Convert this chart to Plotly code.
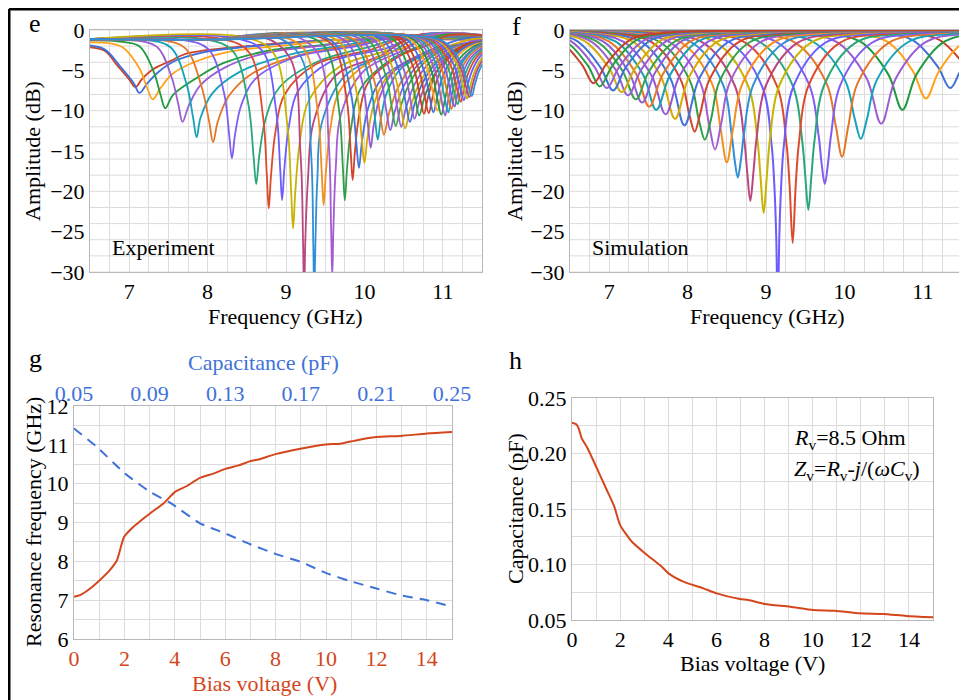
import plotly.graph_objects as go

# The page body has an 8 px default margin, so the figure is drawn 8 px in and is
# 8 px smaller than the 967x700 window; positions below are window pixels.
OFF = 8
W, H = 967 - OFF, 700 - OFF
FONT = "Liberation Serif"
GRID = "#dcdcdc"
FRAME = "#b8b8b8"
RED = "#d4461c"
BLUE = "#3f72d9"


def px(x):
    return (x - OFF) / W


def py(y):
    return 1 - (y - OFF) / H


# ---------------- data: panel f (simulation), ascending resonance --------------
SIM_F = [
    [3.0, 4.94, 5.87, 6.34, 6.65, 6.80, 6.96, 7.27, 7.73, 8.66, 14.0],
    [3.0, 5.02, 5.95, 6.42, 6.73, 6.88, 7.04, 7.35, 7.81, 8.74, 14.0],
    [3.0, 5.05, 6.01, 6.49, 6.81, 6.97, 7.13, 7.45, 7.93, 8.89, 14.0],
    [3.0, 5.13, 6.09, 6.57, 6.89, 7.05, 7.21, 7.53, 8.01, 8.97, 14.0],
    [3.0, 5.18, 6.17, 6.67, 7.00, 7.16, 7.33, 7.66, 8.15, 9.14, 14.0],
    [3.0, 5.26, 6.25, 6.75, 7.08, 7.24, 7.41, 7.74, 8.23, 9.22, 14.0],
    [3.0, 5.30, 6.32, 6.83, 7.17, 7.34, 7.51, 7.85, 8.36, 9.38, 14.0],
    [3.0, 5.38, 6.40, 6.91, 7.25, 7.42, 7.59, 7.93, 8.44, 9.46, 14.0],
    [3.0, 5.41, 6.46, 6.99, 7.34, 7.51, 7.69, 8.04, 8.56, 9.61, 14.0],
    [3.0, 5.50, 6.55, 7.08, 7.43, 7.60, 7.78, 8.13, 8.65, 9.70, 14.0],
    [3.0, 5.56, 6.64, 7.18, 7.54, 7.72, 7.90, 8.26, 8.80, 9.88, 14.0],
    [3.0, 5.68, 6.76, 7.30, 7.66, 7.84, 8.02, 8.38, 8.92, 10.0, 14.0],
    [3.0, 5.74, 6.85, 7.41, 7.78, 7.96, 8.15, 8.52, 9.07, 10.18, 14.0],
    [3.0, 5.87, 6.98, 7.54, 7.91, 8.02, 8.09, 8.16, 8.28, 8.65, 9.20, 10.31, 14.0],
    [3.0, 5.94, 7.08, 7.65, 8.03, 8.14, 8.22, 8.30, 8.41, 8.79, 9.36, 10.50, 14.0],
    [3.0, 6.07, 7.21, 7.78, 8.16, 8.27, 8.35, 8.43, 8.54, 8.92, 9.49, 10.63, 14.0],
    [3.0, 6.16, 7.33, 7.92, 8.31, 8.42, 8.50, 8.58, 8.70, 9.09, 9.67, 10.84, 14.0],
    [3.0, 6.30, 7.47, 8.06, 8.45, 8.56, 8.60, 8.64, 8.68, 8.72, 8.84, 9.23, 9.81, 10.98, 14.0],
    [3.0, 6.40, 7.60, 8.20, 8.60, 8.72, 8.76, 8.80, 8.84, 8.88, 9.00, 9.40, 10.00, 11.20, 14.0],
    [3.0, 6.57, 7.77, 8.37, 8.77, 8.89, 8.93, 8.97, 9.01, 9.05, 9.17, 9.57, 10.17, 11.37, 14.0],
    [3.0, 6.75, 7.95, 8.55, 8.95, 9.07, 9.11, 9.13, 9.15, 9.17, 9.19, 9.23, 9.35, 9.75, 10.35, 11.55, 14.0],
    [3.0, 6.94, 8.14, 8.74, 9.14, 9.26, 9.30, 9.34, 9.38, 9.42, 9.54, 9.94, 10.54, 11.74, 14.0],
    [3.0, 7.14, 8.34, 8.94, 9.34, 9.46, 9.50, 9.54, 9.58, 9.62, 9.74, 10.14, 10.74, 11.94, 14.0],
    [3.0, 7.35, 8.55, 9.15, 9.55, 9.67, 9.71, 9.75, 9.79, 9.83, 9.95, 10.35, 10.95, 12.15, 14.0],
    [3.0, 7.57, 8.77, 9.37, 9.77, 9.89, 9.97, 10.05, 10.17, 10.57, 11.17, 12.37, 14.0],
    [3.0, 7.81, 9.01, 9.61, 10.01, 10.13, 10.21, 10.29, 10.41, 10.81, 11.41, 12.61, 14.0],
    [3.0, 8.19, 9.33, 9.90, 10.28, 10.47, 10.66, 11.04, 11.61, 12.75, 14.0],
    [3.0, 8.58, 9.66, 10.20, 10.56, 10.74, 10.92, 11.28, 11.82, 12.90, 14.0],
    [3.0, 9.00, 10.02, 10.53, 10.87, 11.04, 11.21, 11.55, 12.06, 13.08, 14.0],
    [3.0, 9.43, 10.39, 10.87, 11.19, 11.35, 11.51, 11.83, 12.31, 13.27, 14.0],
    [3.0, 9.76, 10.72, 11.20, 11.52, 11.68, 11.84, 12.16, 12.64, 13.60, 14.0],
]
SIM_DB = [
    [-0.01, -0.1, -0.35, -1.18, -4.26, -6.6, -4.26, -1.18, -0.35, -0.1, -0.01],
    [-0.01, -0.1, -0.36, -1.23, -4.44, -7.0, -4.44, -1.23, -0.36, -0.1, -0.01],
    [-0.01, -0.1, -0.37, -1.25, -4.55, -7.2, -4.55, -1.25, -0.37, -0.1, -0.01],
    [-0.01, -0.1, -0.37, -1.27, -4.66, -7.5, -4.66, -1.27, -0.37, -0.1, -0.01],
    [-0.01, -0.1, -0.37, -1.28, -4.75, -7.7, -4.75, -1.28, -0.37, -0.1, -0.01],
    [-0.01, -0.1, -0.38, -1.31, -4.9, -8.1, -4.9, -1.31, -0.38, -0.1, -0.01],
    [-0.01, -0.1, -0.39, -1.34, -5.08, -8.6, -5.08, -1.34, -0.39, -0.1, -0.01],
    [-0.01, -0.1, -0.39, -1.36, -5.21, -9.0, -5.21, -1.36, -0.39, -0.1, -0.01],
    [-0.01, -0.1, -0.40, -1.39, -5.38, -9.5, -5.38, -1.39, -0.40, -0.1, -0.01],
    [-0.01, -0.1, -0.41, -1.41, -5.5, -9.9, -5.5, -1.41, -0.41, -0.1, -0.01],
    [-0.01, -0.1, -0.41, -1.43, -5.65, -10.45, -5.65, -1.43, -0.41, -0.1, -0.01],
    [-0.01, -0.1, -0.42, -1.45, -5.8, -11.0, -5.8, -1.45, -0.42, -0.1, -0.01],
    [-0.01, -0.1, -0.42, -1.48, -5.98, -11.8, -5.98, -1.48, -0.42, -0.1, -0.01],
    [-0.01, -0.1, -0.43, -1.5, -6.12, -10.4, -12.6, -10.4, -6.12, -1.5, -0.43, -0.1, -0.01],
    [-0.01, -0.1, -0.44, -1.52, -6.3, -11.0, -13.6, -11.0, -6.3, -1.52, -0.44, -0.1, -0.01],
    [-0.01, -0.1, -0.44, -1.55, -6.46, -11.5, -14.8, -11.5, -6.46, -1.55, -0.44, -0.1, -0.01],
    [-0.01, -0.1, -0.45, -1.57, -6.62, -12.2, -16.4, -12.2, -6.62, -1.57, -0.45, -0.1, -0.01],
    [-0.01, -0.1, -0.45, -1.58, -6.73, -12.8, -16.1, -18.3, -16.1, -12.8, -6.73, -1.58, -0.45, -0.1, -0.01],
    [-0.01, -0.1, -0.45, -1.6, -6.85, -13.4, -17.6, -21.2, -17.6, -13.4, -6.85, -1.6, -0.45, -0.1, -0.01],
    [-0.01, -0.1, -0.45, -1.6, -6.88, -13.6, -18.2, -22.7, -18.2, -13.6, -6.88, -1.6, -0.45, -0.1, -0.01],
    [-0.01, -0.1, -0.46, -1.61, -6.99, -14.1, -20.0, -25.5, -35.0, -25.5, -20.0, -14.1, -6.99, -1.61, -0.46, -0.1, -0.01],
    [-0.01, -0.1, -0.46, -1.6, -6.95, -14.0, -19.1, -26.4, -19.1, -14.0, -6.95, -1.6, -0.46, -0.1, -0.01],
    [-0.01, -0.1, -0.45, -1.6, -6.88, -13.6, -18.0, -22.3, -18.0, -13.6, -6.88, -1.6, -0.45, -0.1, -0.01],
    [-0.01, -0.1, -0.45, -1.58, -6.76, -13.0, -16.6, -19.1, -16.6, -13.0, -6.76, -1.58, -0.45, -0.1, -0.01],
    [-0.01, -0.1, -0.45, -1.56, -6.55, -11.9, -15.7, -11.9, -6.55, -1.56, -0.45, -0.1, -0.01],
    [-0.01, -0.1, -0.44, -1.52, -6.28, -10.95, -13.5, -10.95, -6.28, -1.52, -0.44, -0.1, -0.01],
    [-0.01, -0.1, -0.42, -1.47, -5.93, -11.6, -5.93, -1.47, -0.42, -0.1, -0.01],
    [-0.01, -0.1, -0.41, -1.41, -5.5, -9.9, -5.5, -1.41, -0.41, -0.1, -0.01],
    [-0.01, -0.1, -0.39, -1.34, -5.05, -8.5, -5.05, -1.34, -0.39, -0.1, -0.01],
    [-0.01, -0.1, -0.37, -1.25, -4.55, -7.2, -4.55, -1.25, -0.37, -0.1, -0.01],
    [-0.01, -0.1, -0.35, -1.17, -4.2, -6.5, -4.2, -1.17, -0.35, -0.1, -0.01],
]

# ---------------- data: panel e (experiment), ascending bias voltage -----------
EXP_F = [
    [6.4, 6.68, 6.85, 7.00, 7.08, 7.16, 7.30, 7.53, 7.73, 8.5, 9.8, 12.0],
    [6.4, 6.68, 6.89, 7.06, 7.13, 7.23, 7.38, 7.58, 7.93, 8.7, 9.9, 12.0],
    [6.4, 6.75, 6.92, 7.13, 7.23, 7.30, 7.40, 7.55, 7.85, 8.30, 9.0, 10.0, 12.0],
    [6.4, 6.85, 7.13, 7.31, 7.40, 7.46, 7.56, 7.86, 8.20, 8.76, 9.5, 10.3, 12.0],
    [6.4, 7.0, 7.35, 7.54, 7.63, 7.68, 7.76, 7.91, 8.23, 8.78, 9.5, 10.3, 12.0],
    [6.4, 7.18, 7.53, 7.73, 7.815, 7.86, 7.91, 8.06, 8.41, 9.06, 9.8, 10.4, 12.0],
    [6.4, 7.36, 7.71, 7.92, 8.02, 8.07, 8.13, 8.27, 8.57, 9.17, 9.9, 10.5, 12.0],
    [6.4, 7.66, 8.01, 8.21, 8.275, 8.31, 8.35, 8.43, 8.61, 9.11, 9.9, 10.5, 12.0],
    [6.4, 7.97, 8.32, 8.52, 8.585, 8.62, 8.66, 8.74, 8.92, 9.42, 10.1, 10.6, 12.0],
    [6.4, 8.18, 8.53, 8.705, 8.755, 8.78, 8.81, 8.865, 8.98, 9.38, 10.1, 10.6, 12.0],
    [6.4, 8.35, 8.70, 8.875, 8.925, 8.95, 8.98, 9.035, 9.15, 9.55, 10.3, 10.7, 12.0],
    [6.4, 8.49, 8.84, 9.015, 9.065, 9.09, 9.12, 9.175, 9.29, 9.69, 10.3, 10.7, 12.0],
    [6.4, 8.0, 8.70, 9.05, 9.185, 9.218, 9.23, 9.245, 9.28, 9.35, 9.63, 10.2, 10.7, 12.0],
    [6.4, 8.0, 8.84, 9.19, 9.32, 9.348, 9.36, 9.375, 9.40, 9.46, 9.76, 10.3, 10.8, 12.0],
    [6.4, 8.0, 8.88, 9.23, 9.405, 9.455, 9.48, 9.51, 9.565, 9.68, 10.08, 10.5, 10.9, 12.0],
    [6.4, 8.0, 9.06, 9.41, 9.545, 9.575, 9.59, 9.605, 9.635, 9.70, 9.99, 10.5, 10.9, 12.0],
    [6.4, 8.0, 9.15, 9.50, 9.675, 9.725, 9.75, 9.78, 9.835, 9.95, 10.35, 10.7, 11.0, 12.0],
    [6.4, 8.0, 9.25, 9.60, 9.775, 9.825, 9.85, 9.88, 9.935, 10.05, 10.45, 10.8, 11.1, 12.0],
    [6.4, 8.0, 9.28, 9.63, 9.83, 9.895, 9.93, 9.97, 10.05, 10.23, 10.73, 11.0, 11.3, 12.0],
    [6.4, 8.0, 9.35, 9.70, 9.90, 9.965, 10.00, 10.04, 10.12, 10.30, 10.80, 11.1, 11.4, 12.0],
    [6.4, 8.0, 9.43, 9.78, 9.98, 10.045, 10.08, 10.12, 10.20, 10.38, 10.88, 11.2, 11.45, 12.0],
    [6.4, 8.0, 9.52, 9.87, 10.07, 10.135, 10.17, 10.21, 10.29, 10.47, 10.97, 11.25, 11.5, 12.0],
    [6.4, 8.0, 9.55, 9.90, 10.12, 10.20, 10.25, 10.31, 10.42, 10.60, 10.95, 11.3, 11.6, 12.0],
    [6.4, 8.0, 9.63, 9.98, 10.20, 10.28, 10.33, 10.39, 10.50, 10.68, 11.03, 11.35, 11.6, 12.0],
    [6.4, 8.0, 9.70, 10.05, 10.27, 10.35, 10.40, 10.46, 10.57, 10.75, 11.1, 11.4, 11.65, 12.0],
    [6.4, 8.0, 9.77, 10.12, 10.34, 10.42, 10.47, 10.53, 10.64, 10.82, 11.17, 11.45, 11.7, 12.0],
    [6.4, 8.0, 9.82, 10.17, 10.39, 10.47, 10.52, 10.58, 10.69, 10.87, 11.22, 11.5, 11.75, 12.0],
    [6.4, 8.0, 9.8, 10.23, 10.45, 10.53, 10.58, 10.64, 10.75, 10.93, 11.28, 11.55, 12.0],
    [6.4, 8.0, 9.9, 10.29, 10.51, 10.59, 10.64, 10.70, 10.81, 10.99, 11.34, 11.6, 12.0],
    [6.4, 8.0, 9.95, 10.35, 10.57, 10.65, 10.70, 10.76, 10.87, 11.05, 11.4, 11.65, 12.0],
    [6.4, 8.0, 10.0, 10.41, 10.63, 10.71, 10.76, 10.81, 10.89, 11.04, 11.31, 11.6, 12.0],
    [6.4, 8.0, 10.05, 10.47, 10.69, 10.77, 10.82, 10.87, 10.94, 11.07, 11.32, 11.6, 12.0],
    [6.4, 8.0, 10.1, 10.53, 10.75, 10.83, 10.88, 10.93, 11.0, 11.12, 11.36, 11.6, 12.0],
    [6.4, 8.0, 10.15, 10.58, 10.80, 10.88, 10.93, 10.98, 11.04, 11.16, 11.4, 11.65, 12.0],
    [6.4, 8.0, 10.2, 10.63, 10.85, 10.93, 10.98, 11.03, 11.09, 11.2, 11.42, 11.65, 12.0],
    [6.4, 8.0, 10.25, 10.68, 10.90, 10.98, 11.03, 11.07, 11.13, 11.24, 11.45, 11.7, 12.0],
    [6.4, 8.0, 10.3, 10.72, 10.94, 11.02, 11.07, 11.11, 11.17, 11.27, 11.47, 11.7, 12.0],
    [6.4, 8.0, 10.3, 10.76, 10.98, 11.06, 11.11, 11.15, 11.21, 11.31, 11.51, 11.75, 12.0],
    [6.4, 8.0, 10.35, 10.8, 11.02, 11.10, 11.15, 11.19, 11.25, 11.35, 11.55, 11.75, 12.0],
    [6.4, 8.0, 10.4, 10.84, 11.06, 11.14, 11.19, 11.23, 11.29, 11.39, 11.59, 11.8, 12.0],
    [6.4, 8.0, 10.45, 10.88, 11.10, 11.18, 11.23, 11.27, 11.33, 11.43, 11.63, 11.8, 12.0],
    [6.4, 8.0, 10.5, 10.92, 11.14, 11.22, 11.27, 11.31, 11.37, 11.47, 11.67, 11.85, 12.0],
    [6.4, 8.0, 10.55, 10.96, 11.18, 11.26, 11.31, 11.35, 11.41, 11.51, 11.71, 11.85, 12.0],
    [6.4, 8.0, 10.6, 10.99, 11.21, 11.29, 11.34, 11.38, 11.44, 11.54, 11.74, 11.9, 12.0],
    [6.4, 8.0, 10.6, 11.02, 11.24, 11.32, 11.37, 11.41, 11.47, 11.57, 11.77, 11.9, 12.0],
]
EXP_DB = [
    [-2.1, -2.55, -4.41, -6.12, -7.1, -6.12, -4.9, -3.82, -2.94, -2.0, -1.2, -1.3],
    [-1.85, -2.37, -4.56, -6.62, -7.8, -6.62, -5.15, -3.85, -2.79, -1.9, -1.1, -1.3],
    [-1.55, -1.65, -2.16, -4.75, -7.2, -8.6, -7.2, -5.45, -3.91, -2.65, -1.9, -1.0, -1.3],
    [-1.3, -1.4, -2.02, -5.11, -8.03, -9.7, -8.03, -5.94, -4.11, -2.6, -1.8, -0.9, -1.3],
    [-1.2, -1.25, -2.06, -5.82, -9.37, -11.4, -9.37, -6.83, -4.6, -2.77, -1.9, -0.8, -1.3],
    [-1.15, -1.2, -2.17, -6.65, -10.88, -13.3, -10.88, -7.86, -5.19, -3.02, -1.8, -0.8, -1.3],
    [-1.2, -1.2, -2.22, -6.92, -11.36, -13.9, -11.36, -8.19, -5.39, -3.11, -1.8, -0.7, -1.3],
    [-1.2, -1.2, -2.38, -7.82, -12.96, -15.9, -12.96, -9.29, -6.05, -3.41, -2.0, -0.7, -1.3],
    [-1.2, -1.15, -2.59, -9.23, -15.51, -19.1, -15.51, -11.02, -7.07, -3.84, -2.0, -0.7, -1.3],
    [-1.2, -1.1, -2.78, -10.55, -17.9, -22.1, -17.9, -12.65, -8.03, -4.25, -2.4, -0.7, -1.3],
    [-1.2, -1.0, -2.61, -10.05, -17.08, -21.1, -17.08, -12.06, -7.63, -4.02, -2.2, -0.6, -1.3],
    [-1.2, -0.95, -2.84, -11.59, -19.87, -24.6, -19.87, -13.96, -8.75, -4.5, -2.5, -0.6, -1.3],
    [-1.1, -1.2, -0.85, -3.42, -15.32, -26.57, -33.0, -26.57, -18.53, -11.46, -5.67, -3.2, -0.6, -1.3],
    [-1.1, -1.2, -0.75, -3.33, -15.26, -26.55, -33.0, -26.55, -18.49, -11.39, -5.59, -3.0, -0.5, -1.3],
    [-1.1, -1.2, -0.7, -2.38, -10.15, -17.5, -21.7, -17.5, -12.25, -7.63, -3.85, -2.2, -0.5, -1.3],
    [-1.1, -1.2, -0.6, -3.0, -14.06, -24.52, -30.5, -24.52, -17.05, -10.47, -5.09, -2.5, -0.5, -1.3],
    [-1.1, -1.2, -0.5, -2.15, -9.77, -16.98, -21.1, -16.98, -11.83, -7.3, -3.59, -2.0, -0.6, -1.3],
    [-1.1, -1.2, -0.5, -1.95, -8.65, -14.98, -18.6, -14.98, -10.46, -6.47, -3.22, -1.9, -0.6, -1.3],
    [-1.1, -1.2, -0.45, -1.78, -7.94, -13.77, -17.1, -13.77, -9.61, -5.94, -2.95, -1.9, -1.0, -1.3],
    [-1.1, -1.2, -0.4, -1.69, -7.65, -13.28, -16.5, -13.28, -9.26, -5.71, -2.82, -1.9, -1.1, -1.3],
    [-1.1, -1.2, -0.4, -1.54, -6.79, -11.76, -14.6, -11.76, -8.21, -5.09, -2.53, -1.8, -1.3, -1.3],
    [-1.1, -1.2, -0.4, -1.46, -6.34, -10.96, -13.6, -10.96, -7.66, -4.76, -2.38, -1.8, -1.4, -1.3],
    [-1.1, -1.2, -0.4, -1.41, -6.07, -10.48, -13.0, -10.48, -7.33, -4.56, -2.29, -1.8, -1.5, -1.3],
    [-1.1, -1.2, -0.4, -1.36, -5.8, -10.0, -12.4, -10.0, -7.0, -4.36, -2.2, -1.8, -1.6, -1.3],
    [-1.1, -1.2, -0.35, -1.27, -5.55, -9.59, -11.9, -9.59, -6.7, -4.16, -2.08, -1.8, -1.6, -1.3],
    [-1.1, -1.2, -0.3, -1.24, -5.57, -9.66, -12.0, -9.66, -6.74, -4.16, -2.06, -1.9, -1.7, -1.3],
    [-1.1, -1.2, -0.3, -1.25, -5.66, -9.82, -12.2, -9.82, -6.85, -4.23, -2.09, -1.9, -1.7, -1.3],
    [-1.1, -1.2, -0.3, -1.19, -5.3, -9.18, -11.4, -9.18, -6.41, -3.96, -1.97, -1.8, -1.3],
    [-1.1, -1.2, -0.3, -1.11, -5.09, -8.85, -11.0, -8.85, -6.16, -3.8, -1.86, -1.7, -1.3],
    [-1.1, -1.2, -0.3, -1.03, -4.88, -8.52, -10.6, -8.52, -5.92, -3.63, -1.76, -1.6, -1.3],
    [-1.1, -1.2, -0.3, -1.02, -4.79, -8.36, -10.4, -8.36, -5.81, -3.57, -1.73, -1.5, -1.3],
    [-1.1, -1.2, -0.3, -1.05, -4.77, -8.29, -10.3, -8.29, -5.78, -3.57, -1.76, -1.5, -1.3],
    [-1.1, -1.2, -0.3, -1.09, -4.76, -8.22, -10.2, -8.22, -5.75, -3.57, -1.79, -1.5, -1.3],
    [-1.1, -1.2, -0.3, -1.12, -4.69, -8.07, -10.0, -8.07, -5.66, -3.53, -1.8, -1.5, -1.3],
    [-1.1, -1.2, -0.35, -1.21, -4.95, -8.48, -10.5, -8.48, -5.96, -3.73, -1.92, -1.5, -1.3],
    [-1.1, -1.2, -0.35, -1.26, -5.02, -8.57, -10.6, -8.57, -6.03, -3.8, -1.97, -1.5, -1.3],
    [-1.1, -1.2, -0.4, -1.28, -4.87, -8.26, -10.2, -8.26, -5.84, -3.7, -1.96, -1.5, -1.3],
    [-1.1, -1.2, -0.45, -1.29, -4.71, -7.95, -9.8, -7.95, -5.64, -3.6, -1.94, -1.5, -1.3],
    [-1.1, -1.2, -0.5, -1.31, -4.6, -7.72, -9.5, -7.72, -5.5, -3.54, -1.94, -1.5, -1.3],
    [-1.1, -1.2, -0.5, -1.33, -4.5, -7.49, -9.2, -7.49, -5.35, -3.47, -1.93, -1.5, -1.3],
    [-1.1, -1.2, -0.55, -1.36, -4.39, -7.26, -8.9, -7.26, -5.21, -3.41, -1.93, -1.5, -1.3],
    [-1.1, -1.2, -0.6, -1.39, -4.33, -7.11, -8.7, -7.11, -5.12, -3.37, -1.94, -1.5, -1.3],
    [-1.1, -1.2, -0.6, -1.42, -4.27, -6.96, -8.5, -6.96, -5.04, -3.34, -1.96, -1.5, -1.3],
    [-1.1, -1.2, -0.65, -1.45, -4.2, -6.81, -8.3, -6.81, -4.95, -3.31, -1.97, -1.5, -1.3],
    [-1.1, -1.2, -0.7, -1.48, -4.19, -6.74, -8.2, -6.74, -4.92, -3.31, -1.99, -1.5, -1.3],
]

PALETTE = [
    "#c9432b", "#3e6fd8", "#ffa21c", "#1f9a3e", "#9b5dd1", "#14a3bb", "#e57628",
    "#7f5cf2", "#2aa779", "#de4a2c", "#6b5cff", "#c8b400", "#b9467f", "#2f8fd6",
    "#f2901e", "#a45bd4", "#2e9f48", "#d2452c", "#4272da", "#d9a900", "#9458d8",
    "#1a9fb3", "#e8772a", "#8c5fd8", "#3aa24a", "#9a5ed0", "#d0ac10", "#3e72d8",
    "#9a5ed0", "#2a9c40", "#c8402a",
]

# ---------------- data: panel g ----------------------------------------------
BIAS_V = [0, 0.24, 0.64, 1.03, 1.43, 1.70, 1.99, 2.36, 2.62, 3.09, 3.55, 4.01,
          4.48, 5.0, 5.54, 6.01, 6.53, 7.0, 7.32, 8.0, 8.98, 9.99, 10.57, 11.23,
          11.99, 12.95, 14.01, 15.0]
RES_FREQ = [7.09, 7.13, 7.30, 7.52, 7.78, 8.02, 8.63, 8.89, 9.03, 9.27, 9.49,
            9.79, 9.94, 10.15, 10.26, 10.38, 10.47, 10.58, 10.62, 10.76, 10.90,
            11.01, 11.03, 11.12, 11.20, 11.23, 11.29, 11.33]
CAP_PF = [0.05, 0.062, 0.077, 0.0902, 0.1008, 0.1167, 0.13, 0.1432, 0.1573,
          0.1697, 0.1838, 0.1962, 0.21, 0.2226, 0.2368, 0.25]
CAP_FREQ = [11.42, 10.95, 10.26, 9.79, 9.51, 8.98, 8.72, 8.44, 8.18, 7.99, 7.69,
            7.49, 7.30, 7.13, 7.0, 6.83]

# ---------------- data: panel h ----------------------------------------------
H_V = [0, 0.18, 0.28, 0.41, 0.62, 1.04, 1.45, 1.76, 2.0, 2.49, 3.04, 3.73, 4.01,
       4.63, 5.46, 6.01, 6.98, 7.33, 8.02, 9.06, 10.02, 10.92, 11.96, 12.93,
       13.89, 15.0]
H_CAP = [0.2278, 0.2263, 0.2224, 0.2134, 0.2059, 0.1864, 0.1669, 0.152, 0.1355,
         0.1205, 0.110, 0.098, 0.092, 0.0845, 0.0785, 0.074, 0.0689, 0.068,
         0.0644, 0.062, 0.059, 0.0584, 0.056, 0.0554, 0.0536, 0.0524]

GRID_DB = list(range(-30, 1, 2))

fig = go.Figure()

for i, (xs, ys) in enumerate(zip(EXP_F, EXP_DB)):
    fig.add_trace(go.Scatter(x=xs, y=ys, mode="lines", xaxis="x", yaxis="y",
                             line=dict(color=PALETTE[i % len(PALETTE)], width=1.8, shape="spline"),
                             hoverinfo="skip"))

n_sim = len(SIM_F)
for i in reversed(range(n_sim)):
    fig.add_trace(go.Scatter(x=SIM_F[i], y=SIM_DB[i], mode="lines", xaxis="x2", yaxis="y2",
                             line=dict(color=PALETTE[(n_sim - 1 - i) % len(PALETTE)], width=2, shape="spline"),
                             hoverinfo="skip"))

fig.add_trace(go.Scatter(x=BIAS_V, y=RES_FREQ, mode="lines", xaxis="x3", yaxis="y3",
                         line=dict(color=RED, width=2, shape="spline", smoothing=0.6)))
fig.add_trace(go.Scatter(x=CAP_PF, y=CAP_FREQ, mode="lines", xaxis="x4", yaxis="y3",
                         line=dict(color=BLUE, width=2, dash="10px,7px", shape="spline", smoothing=0.6)))
fig.add_trace(go.Scatter(x=H_V, y=H_CAP, mode="lines", xaxis="x5", yaxis="y5",
                         line=dict(color=RED, width=2, shape="spline", smoothing=0.6)))

tickfont = dict(family=FONT, size=22, color="black")
frame = dict(showline=True, mirror=True, linecolor=FRAME, linewidth=1, ticks="",
             zeroline=False, tickfont=tickfont, automargin=False)

dom_e_x = [px(90), px(482)]
dom_f_x = [px(570), px(962)]
dom_ef_y = [py(272), py(30)]

fig.update_layout(
    template="none",
    width=W, height=H, margin=dict(l=0, r=0, t=0, b=0, pad=0, autoexpand=False),
    paper_bgcolor="white", plot_bgcolor="white", showlegend=False,
    font=dict(family=FONT, size=22, color="black"),
    xaxis=dict(domain=dom_e_x, anchor="y", range=[6.5, 11.5], tickvals=[7, 8, 9, 10, 11],
               showgrid=True, gridcolor=GRID, gridwidth=1,
               minor=dict(dtick=0.25, tick0=6.5, showgrid=True, gridcolor=GRID, ticks=""), **frame),
    yaxis=dict(domain=dom_ef_y, anchor="x", range=[-30, 0], tickvals=list(range(-30, 1, 5)),
               showgrid=False, **frame),
    xaxis2=dict(domain=dom_f_x, anchor="y2", range=[6.5, 11.5], tickvals=[7, 8, 9, 10, 11],
                showgrid=True, gridcolor=GRID, gridwidth=1,
                minor=dict(dtick=0.25, tick0=6.5, showgrid=True, gridcolor=GRID, ticks=""), **frame),
    yaxis2=dict(domain=dom_ef_y, anchor="x2", range=[-30, 0], tickvals=list(range(-30, 1, 5)),
                showgrid=False, **frame),
    xaxis3=dict(domain=[px(74), px(452)], anchor="y3", range=[0, 15], tickvals=list(range(0, 15, 2)),
                showgrid=True, gridcolor=GRID, gridwidth=1,
                minor=dict(dtick=1, showgrid=True, gridcolor=GRID, ticks=""),
                **{**frame, "tickfont": dict(family=FONT, size=22, color=RED)}),
    xaxis4=dict(overlaying="x3", anchor="y3", side="top", range=[0.05, 0.25],
                tickvals=[0.05, 0.09, 0.13, 0.17, 0.21, 0.25], tickformat=".2f",
                showgrid=False, showline=False, ticks="", zeroline=False, automargin=False,
                tickfont=dict(family=FONT, size=22, color=BLUE)),
    yaxis3=dict(domain=[py(639), py(406)], anchor="x3", range=[6, 12], dtick=1,
                showgrid=True, gridcolor=GRID, gridwidth=1,
                minor=dict(dtick=0.5, showgrid=True, gridcolor=GRID, ticks=""), **frame),
    xaxis5=dict(domain=[px(572), px(933)], anchor="y5", range=[0, 15], tickvals=list(range(0, 15, 2)),
                showgrid=True, gridcolor=GRID, gridwidth=1,
                minor=dict(dtick=1, showgrid=True, gridcolor=GRID, ticks=""), **frame),
    yaxis5=dict(domain=[py(620), py(398)], anchor="x5", range=[0.05, 0.25],
                tickvals=[0.05, 0.10, 0.15, 0.20, 0.25], tickformat=".2f",
                showgrid=True, gridcolor=GRID, gridwidth=1,
                minor=dict(dtick=0.025, tick0=0.05, showgrid=True, gridcolor=GRID, ticks=""), **frame),
)

shapes = []
for yref, xref in (("y", "x domain"), ("y2", "x2 domain")):
    for v in GRID_DB:
        shapes.append(dict(type="line", xref=xref, yref=yref, x0=0, x1=1, y0=v, y1=v,
                           line=dict(color=GRID, width=1), layer="below"))
# outer black frame (top and left edges of the figure box)
shapes.append(dict(type="line", xref="paper", yref="paper", x0=px(9), x1=1.01, y0=py(9), y1=py(9),
                   line=dict(color="black", width=3)))
shapes.append(dict(type="line", xref="paper", yref="paper", x0=px(9), x1=px(9), y0=py(9), y1=-0.01,
                   line=dict(color="black", width=3)))
fig.update_layout(shapes=shapes)


def note(text, x, y, size=22, color="black", angle=0, xanchor="center"):
    fig.add_annotation(text=text, x=px(x), y=py(y), xref="paper", yref="paper",
                       showarrow=False, textangle=angle, xanchor=xanchor, yanchor="middle",
                       font=dict(family=FONT, size=size, color=color))


note("e", 35, 24, size=26)
note("f", 516, 26, size=26)
note("g", 35, 358, size=26)
note("h", 515, 360, size=26)
note("Amplitude (dB)", 33, 151, angle=-90)
note("Frequency (GHz)", 285, 316)
note("Experiment", 110, 247, xanchor="left")
note("Amplitude (dB)", 515, 151, angle=-90)
note("Frequency (GHz)", 767, 316)
note("Simulation", 590, 247, xanchor="left")
note("Capacitance (pF)", 263, 363, color=BLUE)
note("Resonance frequency (GHz)", 33, 522, angle=-90)
note("Bias voltage (V)", 264, 683, color=RED)
note("Capacitance (pF)", 515, 509, angle=-90)
note("Bias voltage (V)", 752, 663)
note("<i>R</i><sub>v</sub>=8.5 Ohm", 792, 439, xanchor="left")
note("<i>Z</i><sub>v</sub>=<i>R</i><sub>v</sub>-<i>j</i>/(<i>ωC</i><sub>v</sub>)", 792, 470, xanchor="left")

fig.write_html("out.html")
